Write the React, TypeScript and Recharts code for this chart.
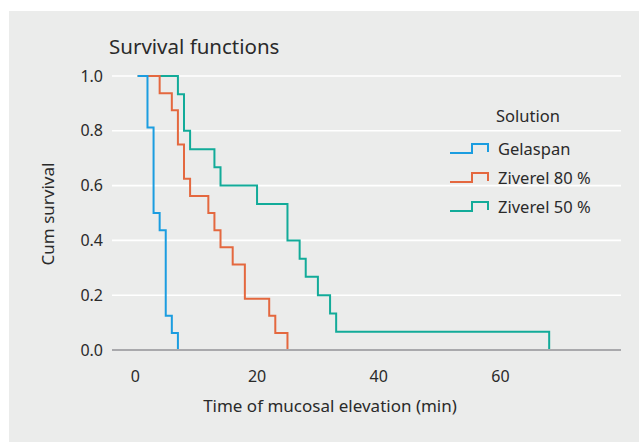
import { CartesianGrid, Line, LineChart, XAxis, YAxis } from "recharts";

// Kaplan-Meier steps (time in min, cum survival)
const gelaspanTimes = [0.4, 2, 3, 4, 5, 6, 7];
const gelaspanSurv = [1, 0.8125, 0.5, 0.4375, 0.125, 0.0625, 0];

const ziverel80Times = [0.4, 4, 6, 7, 8, 9, 12, 13, 14, 16, 18, 22, 23, 25];
const ziverel80Surv = [
  1, 0.9375, 0.875, 0.75, 0.625, 0.5625, 0.5, 0.4375, 0.375, 0.3125, 0.1875,
  0.125, 0.0625, 0,
];

const ziverel50Times = [0.4, 7, 8, 9, 13, 14, 20, 25, 27, 28, 30, 32, 33, 68];
const ziverel50Surv = [
  1, 0.933, 0.8, 0.733, 0.667, 0.6, 0.533, 0.4, 0.333, 0.267, 0.2, 0.133,
  0.067, 0,
];

const xTicks = [0, 20, 40, 60];
const yTicks = [0, 0.2, 0.4, 0.6, 0.8, 1.0];

const FONT = "'Noto Sans', sans-serif";
const TEXT = "#2a2a2a";

const toPoints = (times: number[], surv: number[]) =>
  times.map((t, i) => ({ t, s: surv[i] }));

// drawn bottom to top: teal first, blue last
const series = [
  { name: "Ziverel 50 %", color: "#12ab99", data: toPoints(ziverel50Times, ziverel50Surv) },
  { name: "Ziverel 80 %", color: "#e4683f", data: toPoints(ziverel80Times, ziverel80Surv) },
  { name: "Gelaspan", color: "#1b9de0", data: toPoints(gelaspanTimes, gelaspanSurv) },
];
const legendOrder = [...series].reverse();

function StepIcon({ color }: { color: string }) {
  return (
    <svg width={42} height={14} style={{ display: "block" }}>
      <path
        d="M1 11 H23 V2 H39 V10"
        fill="none"
        stroke={color}
        strokeWidth={2}
      />
    </svg>
  );
}

export default function App() {
  return (
    <div
      style={{
        position: "absolute",
        left: 0,
        top: 0,
        width: 639,
        height: 442,
        background: "#ffffff",
        fontFamily: FONT,
        color: TEXT,
      }}
    >
      <div
        style={{
          position: "absolute",
          left: 9,
          top: 11,
          width: 630,
          height: 431,
          background: "#ebeceb",
        }}
      />
      <div
        style={{
          position: "absolute",
          left: 109,
          top: 33,
          fontSize: 20.5,
          lineHeight: "26px",
        }}
      >
        Survival functions
      </div>
      <div style={{ position: "absolute", left: 0, top: 0 }}>
        <LineChart
          width={639}
          height={442}
          margin={{ top: 76, right: 18, left: 0, bottom: 0 }}
        >
          <CartesianGrid
            vertical={false}
            stroke="#ffffff"
            strokeWidth={1.6}
          />
          <XAxis
            type="number"
            dataKey="t"
            domain={[-3.83, 79.8]}
            ticks={xTicks}
            height={92}
            tickLine={false}
            tickSize={0}
            tickMargin={21}
            axisLine={{ stroke: "#a9a9ac", strokeWidth: 2 }}
            tick={{ fill: TEXT, fontSize: 16, fontFamily: FONT }}
            label={{
              content: () => (
                <text
                  x={330}
                  y={412}
                  textAnchor="middle"
                  fill={TEXT}
                  fontSize={17}
                  fontFamily={FONT}
                >
                  Time of mucosal elevation (min)
                </text>
              ),
            }}
          />
          <YAxis
            type="number"
            dataKey="s"
            domain={[0, 1]}
            ticks={yTicks}
            width={112}
            tickLine={false}
            tickSize={0}
            tickMargin={9}
            axisLine={false}
            tickFormatter={(v: number) => v.toFixed(1)}
            tick={{ fill: TEXT, fontSize: 16, fontFamily: FONT }}
            label={{
              content: () => (
                <text
                  x={47}
                  y={214}
                  textAnchor="middle"
                  dominantBaseline="central"
                  transform="rotate(-90 47 214)"
                  fill={TEXT}
                  fontSize={17}
                  fontFamily={FONT}
                >
                  Cum survival
                </text>
              ),
            }}
          />
          {series.map((s) => (
            <Line
              key={s.name}
              data={s.data}
              dataKey="s"
              name={s.name}
              type="stepAfter"
              stroke={s.color}
              strokeWidth={2}
              dot={false}
              activeDot={false}
              isAnimationActive={false}
            />
          ))}
        </LineChart>
      </div>
      <div style={{ position: "absolute", left: 449, top: 104, fontSize: 16.5 }}>
        <div style={{ marginLeft: 47, height: 24, lineHeight: "24px" }}>
          Solution
        </div>
        {legendOrder.map((s, i) => (
          <div
            key={s.name}
            style={{
              display: "flex",
              alignItems: "center",
              height: 29,
              marginTop: i === 0 ? 6 : 0,
            }}
          >
            <StepIcon color={s.color} />
            <span style={{ marginLeft: 7 }}>{s.name}</span>
          </div>
        ))}
      </div>
    </div>
  );
}
